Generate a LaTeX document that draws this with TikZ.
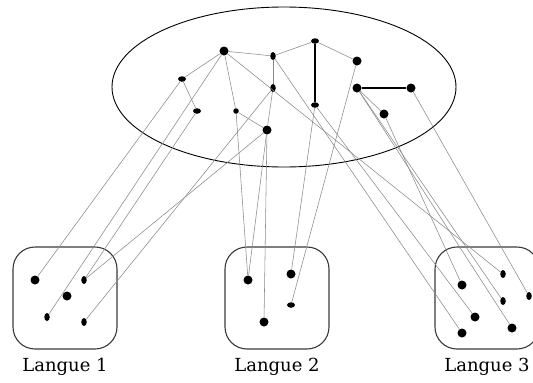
\documentclass[tikz,border=0pt]{standalone}
\usepackage{fontspec}
\setmainfont{DejaVu Serif}
\usetikzlibrary{shapes.geometric,positioning}
\definecolor{linkgray}{HTML}{8A8A8A}
\definecolor{boxgray}{HTML}{3A3A3A}
\tikzset{
  bigdot/.style={circle,fill=black,inner sep=0pt,minimum size=9pt},
  smalldot/.style={circle,fill=black,inner sep=0pt,minimum size=5.5pt},
  vdot/.style={ellipse,fill=black,inner sep=0pt,minimum width=5.5pt,minimum height=8pt},
  hdot/.style={ellipse,fill=black,inner sep=0pt,minimum width=8pt,minimum height=5.5pt},
  link/.style={draw=linkgray,line width=0.55pt},
  bond/.style={draw=black,line width=1.3pt},
  langbox/.style={draw=boxgray,line width=1.1pt,rounded corners=22pt,
    minimum width=104pt,minimum height=102pt},
  langname/.style={font=\fontsize{18}{20}\selectfont,inner sep=3pt}
}

\begin{document}
\begin{tikzpicture}[x=1pt,y=-1pt]
\useasboundingbox (0,0) rectangle (533,383);

\draw[line width=0.9pt] (284,87) ellipse [x radius=172pt, y radius=80pt];

% concepts in the ellipse
\node[bigdot]   (n1)  at (224,51)  {};
\node[vdot]     (n2)  at (273,56)  {};
\node[hdot]     (n3)  at (315,41)  {};
\node[bigdot]   (n4)  at (357,61)  {};
\node[hdot]     (n5)  at (182,79)  {};
\node[vdot]     (n6)  at (273,88)  {};
\node[bigdot]   (n7)  at (357,88)  {};
\node[bigdot]   (n8)  at (411,88)  {};
\node[hdot]     (n9)  at (197,111) {};
\node[smalldot] (n10) at (236,111) {};
\node[hdot]     (n11) at (315,105) {};
\node[bigdot]   (n12) at (384,114) {};
\node[bigdot]   (n13) at (267,130) {};

% language boxes
\node[langbox] (box1) at (65,298)  {};
\node[langbox] (box2) at (277,298) {};
\node[langbox] (box3) at (487,298) {};
\node[langname,below=5pt of box1] (name1) {Langue 1};
\node[langname,below=5pt of box2] (name2) {Langue 2};
\node[langname,below=5pt of box3] (name3) {Langue 3};

% words of Langue 1
\node[bigdot] (u1) at (35,280)  {};
\node[vdot]   (u2) at (84,280)  {};
\node[bigdot] (u3) at (67,296)  {};
\node[vdot]   (u4) at (47,317)  {};
\node[vdot]   (u5) at (84,322)  {};
% words of Langue 2
\node[bigdot] (v1) at (248,280) {};
\node[bigdot] (v2) at (291,274) {};
\node[hdot]   (v3) at (291,305) {};
\node[bigdot] (v4) at (264,322) {};
% words of Langue 3
\node[vdot]   (w1) at (503,274) {};
\node[bigdot] (w2) at (462,285) {};
\node[vdot]   (w3) at (529,296) {};
\node[vdot]   (w4) at (503,301) {};
\node[bigdot] (w5) at (475,317) {};
\node[bigdot] (w6) at (512,328) {};
\node[bigdot] (w7) at (462,333) {};

% links between concepts
\foreach \a/\b in {n1/n5,n1/n2,n2/n3,n3/n4,n5/n9,n1/n10,n10/n13,n2/n6,n6/n13,n7/n12}
  \draw[link] (\a) -- (\b);
\draw[bond] (n3) -- (n11);
\draw[bond] (n7) -- (n8);

% links to the languages
\foreach \a/\b in {n5/u1,n1/u4,n9/u2,n13/u2,n6/u5,
                   n10/v1,n13/v1,n11/v2,n4/v3,n13/v4,
                   n1/w1,n12/w2,n8/w3,n7/w4,n11/w5,n7/w6,n2/w7}
  \draw[link] (\a) -- (\b);

\end{tikzpicture}
\end{document}
